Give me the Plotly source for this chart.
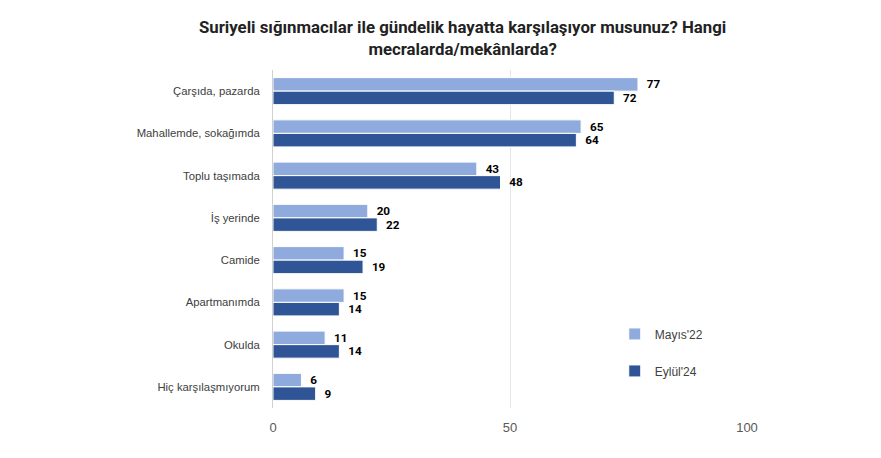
import plotly.graph_objects as go

# categories and values
categories = ["Çarşıda, pazarda", "Mahallemde, sokağımda", "Toplu taşımada",
              "İş yerinde", "Camide", "Apartmanımda", "Okulda",
              "Hiç karşılaşmıyorum"]
mayis22 = [77, 65, 43, 20, 15, 15, 11, 6]
eylul24 = [72, 64, 48, 22, 19, 14, 14, 9]

label_font = dict(family="Roboto", size=13, color="black")

data = [
    go.Bar(y=categories, x=mayis22, name="Mayıs'22", orientation="h",
           marker=dict(color="#8faadc", line=dict(color="white", width=1)),
           text=["<b>\u00a0\u00a0%d</b>" % v for v in mayis22],
           textposition="outside", cliponaxis=False, textfont=label_font,
           legendgroup="a"),
    go.Bar(y=categories, x=eylul24, name="Eylül'24", orientation="h",
           marker=dict(color="#2f5597", line=dict(color="white", width=1)),
           text=["<b>\u00a0\u00a0%d</b>" % v for v in eylul24],
           textposition="outside", cliponaxis=False, textfont=label_font,
           legendgroup="b"),
]

# page body adds an 8px offset, so margins are trimmed to match
layout = go.Layout(
    title=dict(text="<b>Suriyeli sığınmacılar ile gündelik hayatta karşılaşıyor musunuz? Hangi<br>mecralarda/mekânlarda?</b>",
               x=0.516, xanchor="center", y=0.945, yanchor="top",
               font=dict(family="Roboto", size=16.8, color="#222222")),
    width=881, height=458,
    margin=dict(l=265, r=142, t=62, b=58),
    plot_bgcolor="white", paper_bgcolor="white",
    barmode="group", bargap=0.36, bargroupgap=0,
    font=dict(family="Liberation Sans", size=12, color="#404040"),
    xaxis=dict(range=[0, 100], tickvals=[0, 50, 100], showgrid=True,
               gridcolor="#e6e6e6", zeroline=False, showline=False,
               ticks="outside", ticklen=7, tickcolor="white",
               automargin=False,
               tickfont=dict(color="#595959", size=13)),
    yaxis=dict(autorange="reversed", showline=True, linecolor="#d0d0d0",
               ticks="", ticklabelstandoff=10, automargin=False,
               tickfont=dict(color="#404040", size=11.3)),
    legend=dict(x=0.721, y=0.262, xanchor="left", yanchor="top",
                tracegroupgap=18, itemwidth=30,
                font=dict(size=12, color="#404040"),
                bgcolor="rgba(0,0,0,0)"),
)

fig = go.Figure(data=data, layout=layout)
fig.write_html("out.html")
